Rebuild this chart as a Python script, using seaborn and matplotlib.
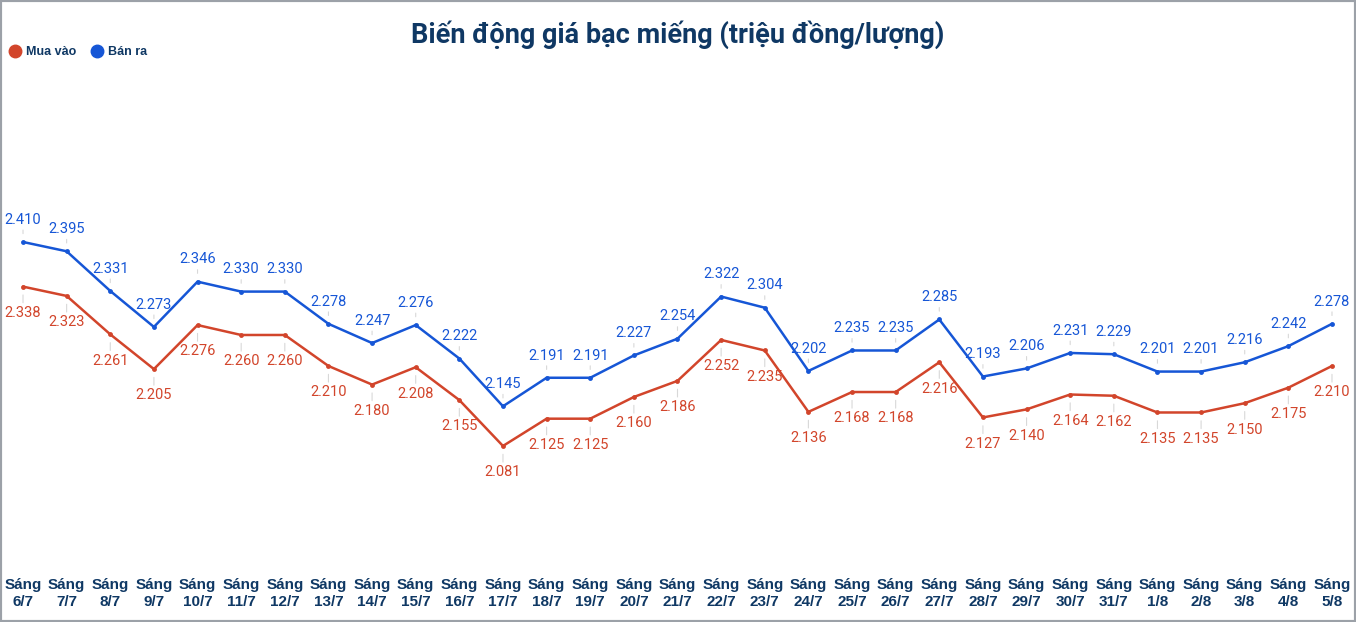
import pandas as pd
import matplotlib
matplotlib.use("Agg")
from matplotlib import pyplot as plt
from matplotlib.lines import Line2D
from matplotlib.patches import Rectangle
import seaborn as sns

dates = ["6/7", "7/7", "8/7", "9/7", "10/7", "11/7", "12/7", "13/7", "14/7", "15/7",
         "16/7", "17/7", "18/7", "19/7", "20/7", "21/7", "22/7", "23/7", "24/7", "25/7",
         "26/7", "27/7", "28/7", "29/7", "30/7", "31/7", "1/8", "2/8", "3/8", "4/8", "5/8"]
tick_labels = ["Sáng\n" + d for d in dates]

ban_ra = [2.410, 2.395, 2.331, 2.273, 2.346, 2.330, 2.330, 2.278, 2.247, 2.276,
          2.222, 2.145, 2.191, 2.191, 2.227, 2.254, 2.322, 2.304, 2.202, 2.235,
          2.235, 2.285, 2.193, 2.206, 2.231, 2.229, 2.201, 2.201, 2.216, 2.242, 2.278]
mua_vao = [2.338, 2.323, 2.261, 2.205, 2.276, 2.260, 2.260, 2.210, 2.180, 2.208,
           2.155, 2.081, 2.125, 2.125, 2.160, 2.186, 2.252, 2.235, 2.136, 2.168,
           2.168, 2.216, 2.127, 2.140, 2.164, 2.162, 2.135, 2.135, 2.150, 2.175, 2.210]

RED = "#d2452b"
BLUE = "#1656d6"
NAVY = "#0f3864"

df = pd.DataFrame({
    "pos": list(range(len(dates))) * 2,
    "value": mua_vao + ban_ra,
    "series": ["Mua vào"] * len(dates) + ["Bán ra"] * len(dates),
})

sns.set_style("white")
plt.rcParams["font.family"] = ["Roboto", "DejaVu Sans"]

fig = plt.figure(figsize=(13.56, 6.22), dpi=100)
ax = fig.add_axes([1.2 / 1356, 2 / 622, 1352.6 / 1356, 620 / 622])
ax.patch.set_alpha(0)

sns.lineplot(data=df, x="pos", y="value", hue="series",
             palette={"Mua vào": RED, "Bán ra": BLUE},
             marker="o", markersize=3.5, markeredgewidth=0, linewidth=1.8,
             legend=False, ax=ax)

# value labels with faint leader lines
for i, v in enumerate(ban_ra):
    ax.annotate(f"{v:.3f}", xy=(i, v), xytext=(0, 16), textcoords="offset points",
                ha="center", va="center", fontsize=10.5, color=BLUE,
                arrowprops=dict(arrowstyle="-", color="#d8d8d8", lw=0.8,
                                shrinkA=0, shrinkB=6))
for i, v in enumerate(mua_vao):
    ax.annotate(f"{v:.3f}", xy=(i, v), xytext=(0, -19), textcoords="offset points",
                ha="center", va="center", fontsize=10.5, color=RED,
                arrowprops=dict(arrowstyle="-", color="#d8d8d8", lw=0.8,
                                shrinkA=0, shrinkB=6))

ax.set_xlim(-0.5, len(dates) - 0.5)
ax.set_ylim(1.8003, 2.8003)
ax.set_xticks(range(len(dates)))
ax.set_xticklabels(tick_labels, fontsize=11, fontweight="bold", color=NAVY,
                   family=["Liberation Sans", "DejaVu Sans"], linespacing=1.25)
ax.tick_params(axis="x", direction="in", length=4, width=1, color="#555555", pad=-30)
ax.set_yticks([])
ax.set_xlabel("")
ax.set_ylabel("")
for s in ax.spines.values():
    s.set_visible(False)

fig.text(0.5, 1 - 35 / 622, "Biến động giá bạc miếng (triệu đồng/lượng)",
         ha="center", va="center", fontsize=19.5, fontweight="bold", color=NAVY)

handles = [Line2D([], [], marker="o", linestyle="", markersize=9, color=RED),
           Line2D([], [], marker="o", linestyle="", markersize=9, color=BLUE)]
fig.legend(handles, ["Mua vào", "Bán ra"], loc="center left",
           bbox_to_anchor=(-3 / 1356, 1 - 52 / 622), ncol=2, frameon=False,
           handletextpad=0.45, columnspacing=1.1, handlelength=1.0,
           prop={"weight": "bold", "size": 9, "family": ["Liberation Sans", "DejaVu Sans"]},
           labelcolor=NAVY)

fig.add_artist(Rectangle((0, 0), 1, 1, transform=fig.transFigure, fill=False,
                         edgecolor="#9ca1a8", linewidth=3, clip_on=False))

fig.savefig("out.png", dpi=100)
